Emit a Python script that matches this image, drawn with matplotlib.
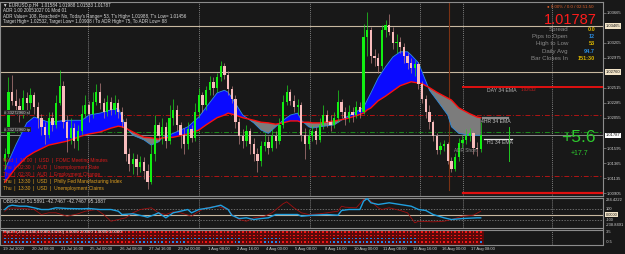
import matplotlib
matplotlib.use("Agg")
import matplotlib.pyplot as plt
import numpy as np
from matplotlib.colors import ListedColormap

plt.rcParams['font.family'] = ['Liberation Sans', 'DejaVu Sans']

# ---------------- data ----------------
first_open = 1.0140
close = [
    1.0150, 1.0245, 1.0232, 1.0224, 1.0212, 1.0236,
    1.0228, 1.0240, 1.0222, 1.0205, 1.0192, 1.0180,
    1.0205, 1.0195, 1.0228, 1.0255, 1.0200, 1.0175,
    1.0190, 1.0170, 1.0185, 1.0212, 1.0225, 1.0212,
    1.0230, 1.0245, 1.0228, 1.0215, 1.0230, 1.0218,
    1.0228, 1.0215, 1.0200, 1.0150, 1.0135, 1.0142,
    1.0130, 1.0138, 1.0125, 1.0108, 1.0150, 1.0195,
    1.0178, 1.0192, 1.0170, 1.0205, 1.0218, 1.0195,
    1.0180, 1.0165, 1.0188, 1.0175, 1.0215, 1.0240,
    1.0225, 1.0248, 1.0260, 1.0252, 1.0268, 1.0285,
    1.0272, 1.0250, 1.0235, 1.0200, 1.0178, 1.0170,
    1.0185, 1.0165, 1.0150, 1.0140, 1.0162, 1.0168,
    1.0160, 1.0178, 1.0170, 1.0195, 1.0230, 1.0245,
    1.0232, 1.0222, 1.0225, 1.0180, 1.0165, 1.0178,
    1.0185, 1.0172, 1.0195, 1.0210, 1.0200, 1.0195,
    1.0205, 1.0230, 1.0215, 1.0205, 1.0215, 1.0210,
    1.0222, 1.0215, 1.0330, 1.0340, 1.0300, 1.0298,
    1.0285, 1.0340, 1.0348, 1.0338, 1.0320, 1.0322,
    1.0315, 1.0300, 1.0290, 1.0282, 1.0288, 1.0258,
    1.0235, 1.0215, 1.0200, 1.0178, 1.0157, 1.0162,
    1.0165, 1.0140, 1.0128, 1.0145, 1.0167, 1.0172,
    1.0178, 1.0182, 1.0160, 1.01584, 1.01787,
]
high = [
    1.0160, 1.0268, 1.0272, 1.0250, 1.0236, 1.0248,
    1.0245, 1.0252, 1.0245, 1.0230, 1.0212, 1.0200,
    1.0215, 1.0215, 1.0240, 1.0279, 1.0262, 1.0210,
    1.0205, 1.0198, 1.0195, 1.0225, 1.0240, 1.0232,
    1.0245, 1.0258, 1.0259, 1.0236, 1.0240, 1.0238,
    1.0240, 1.0235, 1.0222, 1.0205, 1.0160, 1.0152,
    1.0150, 1.0148, 1.0145, 1.0135, 1.0165, 1.0210,
    1.0200, 1.0205, 1.0200, 1.0225, 1.0234, 1.0225,
    1.0200, 1.0190, 1.0200, 1.0195, 1.0228, 1.0252,
    1.0245, 1.0255, 1.0270, 1.0268, 1.0275, 1.0293,
    1.0290, 1.0278, 1.0255, 1.0240, 1.0205, 1.0188,
    1.0195, 1.0190, 1.0175, 1.0160, 1.0170, 1.0182,
    1.0178, 1.0188, 1.0185, 1.0205, 1.0240, 1.0256,
    1.0250, 1.0240, 1.0235, 1.0230, 1.0190, 1.0188,
    1.0195, 1.0192, 1.0205, 1.0225, 1.0218, 1.0210,
    1.0215, 1.0248, 1.0235, 1.0222, 1.0225, 1.0222,
    1.0232, 1.0230, 1.0350, 1.0368, 1.0345, 1.0312,
    1.0305, 1.0348, 1.0355, 1.0365, 1.0345, 1.0335,
    1.0330, 1.0320, 1.0305, 1.0298, 1.0295, 1.0292,
    1.0262, 1.0240, 1.0225, 1.0202, 1.0182, 1.0168,
    1.0172, 1.0168, 1.0146, 1.0152, 1.0175, 1.0180,
    1.0188, 1.0190, 1.0185, 1.0168, 1.01988,
]
low = [
    1.0128, 1.0145, 1.0226, 1.0215, 1.0200, 1.0205,
    1.0215, 1.0220, 1.0212, 1.0190, 1.0180, 1.0165,
    1.0175, 1.0185, 1.0190, 1.0225, 1.0190, 1.0154,
    1.0165, 1.0160, 1.0156, 1.0180, 1.0205, 1.0200,
    1.0205, 1.0225, 1.0220, 1.0205, 1.0208, 1.0210,
    1.0212, 1.0205, 1.0192, 1.0140, 1.0125, 1.0120,
    1.0118, 1.0122, 1.0112, 1.0097, 1.0105, 1.0140,
    1.0170, 1.0165, 1.0160, 1.0165, 1.0195, 1.0185,
    1.0160, 1.0150, 1.0158, 1.0168, 1.0170, 1.0205,
    1.0215, 1.0218, 1.0240, 1.0240, 1.0245, 1.0262,
    1.0265, 1.0240, 1.0228, 1.0190, 1.0165, 1.0160,
    1.0162, 1.0150, 1.0140, 1.0123, 1.0132, 1.0155,
    1.0150, 1.0155, 1.0160, 1.0165, 1.0190, 1.0225,
    1.0225, 1.0215, 1.0210, 1.0170, 1.0142, 1.0158,
    1.0170, 1.0165, 1.0168, 1.0188, 1.0192, 1.0185,
    1.0190, 1.0200, 1.0205, 1.0195, 1.0200, 1.0200,
    1.0205, 1.0205, 1.0212, 1.0300, 1.0290, 1.0285,
    1.0275, 1.0280, 1.0330, 1.0332, 1.0312, 1.0305,
    1.0305, 1.0290, 1.0280, 1.0275, 1.0270, 1.0250,
    1.0228, 1.0205, 1.0188, 1.0170, 1.0150, 1.0150,
    1.0155, 1.0135, 1.0122, 1.0124, 1.0140, 1.0160,
    1.0165, 1.0170, 1.0150, 1.0148, 1.01533,
]

ema_idx = [0, 3, 6, 8, 12, 17, 21, 23, 26, 29, 31, 32, 33, 35, 38, 40, 42, 43, 46, 50,
           53, 55, 58, 60, 61, 63, 65, 68, 70, 72, 74, 76, 78, 80, 81, 83, 84, 86, 90, 93,
           96, 98, 99, 100, 102, 104, 106, 108, 110, 111, 113, 114, 116, 118, 121, 122, 124, 127, 129, 130]
ema_slow = [1.0107, 1.0129, 1.0146, 1.0153, 1.0164, 1.0170, 1.0178, 1.0181, 1.0184, 1.0190,
            1.0193, 1.0192, 1.0190, 1.0184, 1.0176, 1.0175, 1.0173, 1.0175, 1.0176, 1.0181,
            1.0187, 1.0195, 1.0206, 1.0210, 1.0213, 1.0210, 1.0206, 1.0202, 1.0199, 1.0198,
            1.0196, 1.0198, 1.0201, 1.0201, 1.0199, 1.0199, 1.0198, 1.0198, 1.0201, 1.0204,
            1.0209, 1.0213, 1.0218, 1.0221, 1.0232, 1.0239, 1.0247, 1.0255, 1.0259, 1.0261,
            1.0259, 1.0258, 1.0252, 1.0245, 1.0236, 1.0233, 1.0221, 1.0212, 1.0207, 1.0206]
ema_fast = [1.0126, 1.0164, 1.0198, 1.0207, 1.0199, 1.0202, 1.0202, 1.0210, 1.0213, 1.0218,
            1.0221, 1.0207, 1.0192, 1.0179, 1.0172, 1.0164, 1.0169, 1.0175, 1.0182, 1.0192,
            1.0207, 1.0222, 1.0244, 1.0248, 1.0245, 1.0228, 1.0210, 1.0198, 1.0187, 1.0182,
            1.0192, 1.0202, 1.0210, 1.0213, 1.0202, 1.0192, 1.0190, 1.0192, 1.0195, 1.0206,
            1.0215, 1.0222, 1.0233, 1.0244, 1.0267, 1.0284, 1.0299, 1.0307, 1.0307, 1.0302,
            1.0290, 1.0276, 1.0248, 1.0233, 1.0210, 1.0192, 1.0182, 1.0179, 1.0179, 1.0179]

cci_blue_idx = [0, 1, 2, 4, 6, 8, 10, 12, 14, 17, 21, 23, 26, 29, 31, 32, 35, 38, 39, 41,
                42, 44, 46, 48, 50, 51, 53, 56, 59, 61, 62, 64, 66, 68, 70, 72, 74, 77, 80, 81,
                84, 88, 91, 92, 94, 97, 98, 99, 100, 102, 105, 108, 111, 113, 115, 117, 120, 122, 125, 129, 130]
cci_blue = [91, 151, 169, 151, 151, 122, 91, 91, 122, 109, 104, 109, 91, 91, 60, 0, 13, -31, -49, 0,
            31, -60, 31, 60, 91, 31, 91, 122, 169, 91, -13, -73, -60, -91, -73, -60, 0, 0, 0, -31,
            -13, 0, -13, 73, 91, 91, 242, 291, 213, 182, 213, 182, 151, 91, 73, 0, -60, -91, -73, -60, -60]
cci_red_idx = [0, 1, 4, 8, 10, 12, 14, 17, 20, 22, 25, 27, 29, 31, 33, 35, 37, 40, 42, 44,
               46, 48, 51, 53, 55, 58, 61, 62, 64, 66, 68, 71, 73, 76, 77, 79, 81, 83, 86, 91,
               92, 93, 96, 98, 99, 100, 102, 103, 105, 108, 110, 112, 113, 117, 120, 122, 125, 128, 130]
cci_red = [60, 116, 116, 91, 0, 31, 31, -31, 13, 60, 91, 0, -122, -91, -60, 31, 91, 122, 31, 0,
           49, 31, -31, 60, 122, 151, 91, 0, -91, -122, -60, -31, 31, 195, 231, 122, 31, 0, 13, 60,
           151, 133, 122, 273, 291, 242, 122, 91, 122, 73, 31, -151, -122, -133, -122, -91, -31, -13, 60]

# heat map rows (top -> bottom), run-length: (1 = blue, 0 = red, count)
heat_runs = [
    [(0, 131)],
    [(0, 131)],
    [(1, 65), (0, 6), (1, 5), (0, 14), (1, 23), (0, 18)],
    [(1, 8), (0, 1), (1, 2), (0, 2), (1, 5), (0, 1), (1, 7), (0, 10), (1, 8), (0, 1),
     (1, 5), (0, 13), (1, 2), (0, 6), (1, 5), (0, 13), (1, 24), (0, 17), (1, 1)],
]

time_labels = ["19 Jul 2022", "20 Jul 08:00", "21 Jul 16:00", "25 Jul 00:00", "26 Jul 08:00",
               "27 Jul 16:00", "29 Jul 00:00", "1 Aug 08:00", "2 Aug 16:00", "4 Aug 00:00",
               "5 Aug 08:00", "8 Aug 16:00", "10 Aug 00:00", "11 Aug 08:00", "12 Aug 16:00",
               "16 Aug 00:00", "17 Aug 08:00"]
time_label_idx = [0, 8, 16, 24, 32, 40, 48, 56, 64, 72, 80, 88, 96, 104, 112, 120, 128]

price_ticks = [1.00905, 1.01135, 1.01365, 1.01595, 1.02055, 1.02285, 1.02515,
               1.02975, 1.03205, 1.03665]

current_price = 1.01787
beige_levels = [1.03465, 1.02760]
red_dashdot_levels = [1.02101, 1.01166]
green_dashdot_level = 1.01840
day_ema = 1.02532
adr_low = 1.00908
h4_ema = 1.0206
h1_ema = 1.0173

events = [("Wed  |  19:00  |  USD  |  FOMC Meeting Minutes", '#d81818'),
          ("Thu  |  02:30  |  AUD  |  Unemployment Rate", '#d81818'),
          ("Thu  |  02:30  |  AUD  |  Employment Change", '#d81818'),
          ("Thu  |  13:30  |  USD  |  Philly Fed Manufacturing Index", '#e0a020'),
          ("Thu  |  13:30  |  USD  |  Unemployment Claims", '#e0a020')]

info_labels = ["Spread", "Pips to Open", "High to Low", "Daily Avg", "Bar Closes In"]
info_values = ["0.0", "12", "53", "94.7", "151:30"]
info_colors = ['#d8b400', '#2a8ce0', '#d8b400', '#2a8ce0', '#d8b400']

# ---------------- layout ----------------
W, H = 625, 254
BG = '#181818'
XMIN, XMAX = -1.31, 163.4
grid_x = [22.7, 53.1, 83.4, 113.4, 125.2, 149.5]

fig = plt.figure(figsize=(W / 100, H / 100), dpi=100, facecolor=BG)
ax = fig.add_axes([0, 1 - 195.5 / H, 603 / W, 193.5 / H])
ax_c = fig.add_axes([0, 1 - 228 / H, 603 / W, 30 / H])
ax_h = fig.add_axes([0, 1 - 244.5 / H, 603 / W, 15 / H])

for a in (ax, ax_c, ax_h):
    a.set_facecolor(BG)
    for s in a.spines.values():
        s.set_color('#8c8c8c')
        s.set_linewidth(0.8)
    a.set_xlim(XMIN, XMAX)
    a.set_xticks([])
    for gx in grid_x:
        a.axvline(gx, color='#a0a0a0', lw=0.5, ls=(0, (1.5, 1.5)), zorder=0.5)


def ftext(x, y, s, **kw):
    kw.setdefault('va', 'center')
    fig.text(x / W, 1 - y / H, s, **kw)


# ---------------- main chart ----------------
ax.set_ylim(1.00867, 1.03833)
idx = np.arange(len(close))
c = np.array(close)
o = np.array([first_open] + close[:-1])
hi = np.array(high)
lo = np.array(low)
bull = c >= o

ex = np.array(ema_idx)
ef = np.array(ema_fast)
es = np.array(ema_slow)
ax.fill_between(ex, ef, es, where=ef >= es, interpolate=True, color='#0a0aff', lw=0, zorder=1)
ax.fill_between(ex, ef, es, where=ef < es, interpolate=True, color='#7c7c7c', lw=0, zorder=1)
ax.plot(ex, ef, color='#2f8fe0', lw=0.6, zorder=1.2)
ax.plot(ex, es, color='#ff1010', lw=1.0, zorder=2.5)

for lv in beige_levels:
    ax.axhline(lv, color='#c8b8a0', lw=0.8, zorder=0.8)
ax.axhline(current_price, color='#9c9c9c', lw=0.6, zorder=0.8)
for lv in red_dashdot_levels:
    ax.axhline(lv, color='#b01414', lw=0.7, ls=(0, (5, 2, 1, 2)), zorder=0.8)
ax.axhline(green_dashdot_level, color='#1c8c1c', lw=0.7, ls=(0, (5, 2, 1, 2)), zorder=0.8)
ax.plot([125.2, XMAX], [day_ema, day_ema], color='#e01010', lw=1.4, zorder=3)
ax.plot([125.2, XMAX], [adr_low, adr_low], color='#e01010', lw=1.6, zorder=3)
ax.plot([121.4, 121.4], [1.0095, 1.03833], color='#7a3214', lw=0.8, zorder=0.9)

wick_cols = np.where(bull, '#1ed81e', '#b88080')
body_cols = np.where(bull, '#12f012', '#f8bcbc')
ax.vlines(idx, lo, hi, colors=wick_cols, lw=0.5, zorder=3)
body_h = np.maximum(np.abs(c - o), 0.00006)
ax.bar(idx, body_h, bottom=np.minimum(o, c), width=0.62, color=body_cols, lw=0, zorder=3.5)

# label lines on right side
ax.plot([130.7, 137.5], [h4_ema, h4_ema], color='#8a8a8a', lw=1.6, zorder=4)
ax.plot([130.9, 138.5], [h1_ema, h1_ema], color='#e6e6e6', lw=0.9, zorder=4)
ax.plot([137.8, 137.8], [1.0140, 1.0191], color='#22c822', lw=0.7, zorder=4)

ax.yaxis.tick_right()
ax.set_yticks(price_ticks)
ax.set_yticklabels([f"{v:.5f}" for v in price_ticks])
ax.tick_params(axis='y', colors='#8c8c8c', labelcolor='#d0d0d0', labelsize=3.0,
               length=2, width=0.5, pad=1)

box_kw = dict(fontsize=3.0, va='center', ha='left', transform=ax.get_yaxis_transform(),
              clip_on=False, zorder=10)
for lv in beige_levels:
    ax.text(1.004, lv, f"{lv:.5f}", color='#111111',
            bbox=dict(boxstyle='square,pad=0.2', fc='#f2e4c8', ec='none'), **box_kw)
ax.text(1.004, current_price, f"{current_price:.5f}", color='#111111',
        bbox=dict(boxstyle='square,pad=0.2', fc='#ffffff', ec='none'), **box_kw)

# ---------------- texts main ----------------
tcol = '#dcdcdc'
fs_top = 3.25
ftext(3, 5.2, "\u25bc EURUSD.p,H4  1.01584 1.01988 1.01533 1.01787", color=tcol, fontsize=fs_top)
ftext(3, 10.8, "ADR 1.00 20051027 01 Mod 01", color=tcol, fontsize=fs_top)
ftext(3, 16.4, "ADR Value= 108, Reached= No, Today's Range= 53, T's High= 1.01988, T's Low= 1.01456",
      color=tcol, fontsize=fs_top)
ftext(3, 22.0, "Target High= 1.02532, Target Low= 1.00908 / To ADR High= 75, To ADR Low= 88",
      color=tcol, fontsize=fs_top)

ftext(570, 6.7, "\u25cf 0.00% / 0.0 / 02:51:50", color='#e0602a', fontsize=3.2, ha='center')
ftext(570, 19.5, "1.01787", color='#ff1c1c', fontsize=10.5, ha='center')
for k, (lab, val, vc) in enumerate(zip(info_labels, info_values, info_colors)):
    yy = 29.3 + 7.25 * k
    ftext(568, yy, lab, color='#8a8a8a', fontsize=4.4, ha='right')
    ftext(595, yy, val, color=vc, fontsize=4.0, ha='right', fontweight='bold')

ftext(578, 138, "+5.6", color='#2ec82e', fontsize=12.5, ha='center')
ftext(580, 153.5, "+17.7", color='#2ec82e', fontsize=5.0, ha='center')

for k, (s, col) in enumerate(events):
    ftext(3, 160.7 + 6.85 * k, s, color=col, fontsize=3.5)

ftext(502, 90.6, "DAY 34 EMA", color='#b4b4b4', fontsize=3.7, ha='center')
ftext(528, 89.6, "1.02532", color='#d02020', fontsize=3.2, ha='center')
ftext(496, 121.2, "4HR 34 EMA", color='#c0c0c0', fontsize=3.7, ha='center')
ftext(500, 142.7, "H1 34 EMA", color='#c0c0c0', fontsize=3.7, ha='center')
ftext(465, 151.0, "ADR Short", color='#909090', fontsize=3.4, ha='center')
ftext(4, 112.5, "# 33272960 sl", color='#cfcfcf', fontsize=3.0,
      bbox=dict(boxstyle='square,pad=0.1', fc='#2a2a2a', ec='none'))
ftext(4, 129.8, "# 33272960 tp", color='#cfcfcf', fontsize=3.0,
      bbox=dict(boxstyle='square,pad=0.1', fc='#2a2a2a', ec='none'))

# ---------------- CCI panel ----------------
ax_c.set_ylim(-245, 300)
ax_c.axhline(100, color='#8a8a8a', lw=0.5, ls=(0, (2, 2)))
ax_c.axhline(-100, color='#8a8a8a', lw=0.5, ls=(0, (2, 2)))
ax_c.axhline(0, color='#c8b8a0', lw=0.8)
ax_c.plot(cci_red_idx, cci_red, color='#a01010', lw=0.6, zorder=2)
ax_c.plot(cci_blue_idx, cci_blue, color='#20a0e0', lw=1.0, zorder=3)
ax_c.set_yticks([])
ftext(3, 201.5, "OBBdiCCI 51.5891 -42.7467 -42.7467 95.1887", color='#d0d0d0', fontsize=3.5)
ctr = ax_c.get_yaxis_transform()
lab_kw = dict(fontsize=2.9, color='#d0d0d0', va='center', clip_on=False)
ax_c.text(1.005, 0.93, "234.4222", transform=ax_c.transAxes, **lab_kw)
ax_c.text(1.005, 100, "100", transform=ctr, **lab_kw)
ax_c.text(1.005, -100, "-100", transform=ctr, **lab_kw)
ax_c.text(1.005, 0.10, "-238.8491", transform=ax_c.transAxes, **lab_kw)
ax_c.text(1.004, 0, "0.0000", transform=ctr, fontsize=2.9, color='#111111', va='center', clip_on=False,
          bbox=dict(boxstyle='square,pad=0.2', fc='#f2e4c8', ec='none'), zorder=10)

# ---------------- heat panel ----------------
rows = []
for runs in heat_runs:
    r = []
    for val, cnt in runs:
        r += [val] * cnt
    rows.append(r)
grid = np.array(rows[::-1])  # bottom row first
xe = np.arange(len(close) + 1) - 0.5
ye = np.arange(len(rows) + 1) - 0.5
ax_h.pcolormesh(xe, ye, grid, cmap=ListedColormap(['#ee1515', '#2088e8']), vmin=0, vmax=1,
                edgecolors='#5a0808', linewidth=0.3)
ax_h.set_ylim(-0.5 - 0.2, 3.5 + 0.2)
ax_h.set_yticks([])
ax_h.text(1.005, 0.83, "3.5", transform=ax_h.transAxes, **lab_kw)
ax_h.text(1.005, 0.17, "-0.5", transform=ax_h.transAxes, **lab_kw)
ftext(3, 232.3, "Pipi29 (240,1440,10080,43200) 3.0000 2.0000 1.0000 0.0000", color='#e8e8e8', fontsize=3.15)

htr = ax_h.get_xaxis_transform()
for ti, tl in zip(time_label_idx, time_labels):
    ax_h.text(ti - 0.6, -0.27, tl, transform=htr, fontsize=2.95, color='#d0d0d0',
              va='center', ha='left', clip_on=False)

fig.savefig('out.png', dpi=100, facecolor=BG)
